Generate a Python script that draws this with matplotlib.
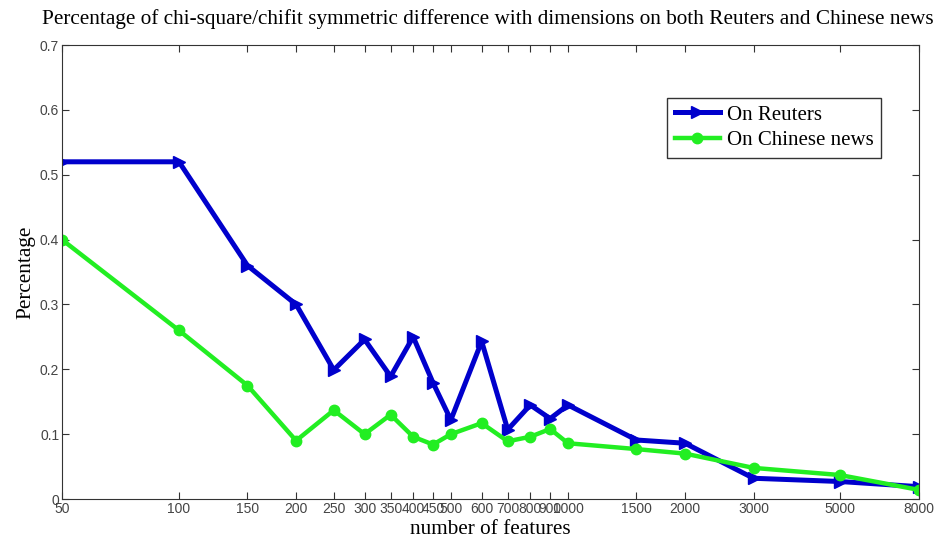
import matplotlib.pyplot as plt
from matplotlib.ticker import NullLocator

features = [50, 100, 150, 200, 250, 300, 350, 400, 450, 500, 600, 700, 800, 900, 1000, 1500, 2000, 3000, 5000, 8000]
reuters = [0.52, 0.52, 0.36, 0.30, 0.199, 0.246, 0.189, 0.25, 0.179, 0.122, 0.243, 0.107, 0.145, 0.124, 0.145, 0.091, 0.086, 0.032, 0.027, 0.019]
chinese = [0.40, 0.26, 0.175, 0.09, 0.137, 0.10, 0.13, 0.096, 0.084, 0.10, 0.117, 0.089, 0.096, 0.108, 0.086, 0.077, 0.070, 0.048, 0.037, 0.014]
yticks = [0, 0.1, 0.2, 0.3, 0.4, 0.5, 0.6, 0.7]

fig = plt.figure(figsize=(9.38, 5.43), dpi=100)
ax = fig.add_axes([0.066, 0.081, 0.914, 0.836])

ax.plot(features, reuters, '>-', color='#0000cc', lw=3.6, ms=9, label='On Reuters')
ax.plot(features, chinese, 'o-', color='#22ee22', lw=3.2, ms=7.5, label='On Chinese news')

ax.set_xscale('log')
ax.set_xlim(50, 8000)
ax.set_ylim(0, 0.7)
ax.set_xticks(features)
ax.xaxis.set_minor_locator(NullLocator())
ax.set_xticklabels([str(f) for f in features])
ax.set_yticks(yticks)
ax.set_yticklabels(['0', '0.1', '0.2', '0.3', '0.4', '0.5', '0.6', '0.7'])
ax.tick_params(direction='in', length=5, top=True, right=True, colors='#333333',
               labelsize=10, pad=2)
for lab in ax.get_xticklabels() + ax.get_yticklabels():
    lab.set_family('Liberation Sans')
    lab.set_color('#444444')
for s in ax.spines.values():
    s.set_color('#333333')

serif = 'Liberation Serif'
ax.set_title('Percentage of chi-square/chifit symmetric difference with dimensions on both Reuters and Chinese news',
             family=serif, fontsize=15.3, pad=15, x=0.4965)
ax.set_xlabel('number of features', family=serif, fontsize=15.3, labelpad=3)
ax.set_ylabel('Percentage', family=serif, fontsize=15.3, labelpad=3)

leg = ax.legend(loc='upper right', bbox_to_anchor=(0.955, 0.884), prop={'family': serif, 'size': 15},
                fancybox=False, edgecolor='#333333', framealpha=1, handlelength=2.2,
                borderpad=0.35, labelspacing=0.3, handletextpad=0.3, borderaxespad=0)
leg.get_frame().set_linewidth(1)

fig.savefig('out.png', dpi=100)
